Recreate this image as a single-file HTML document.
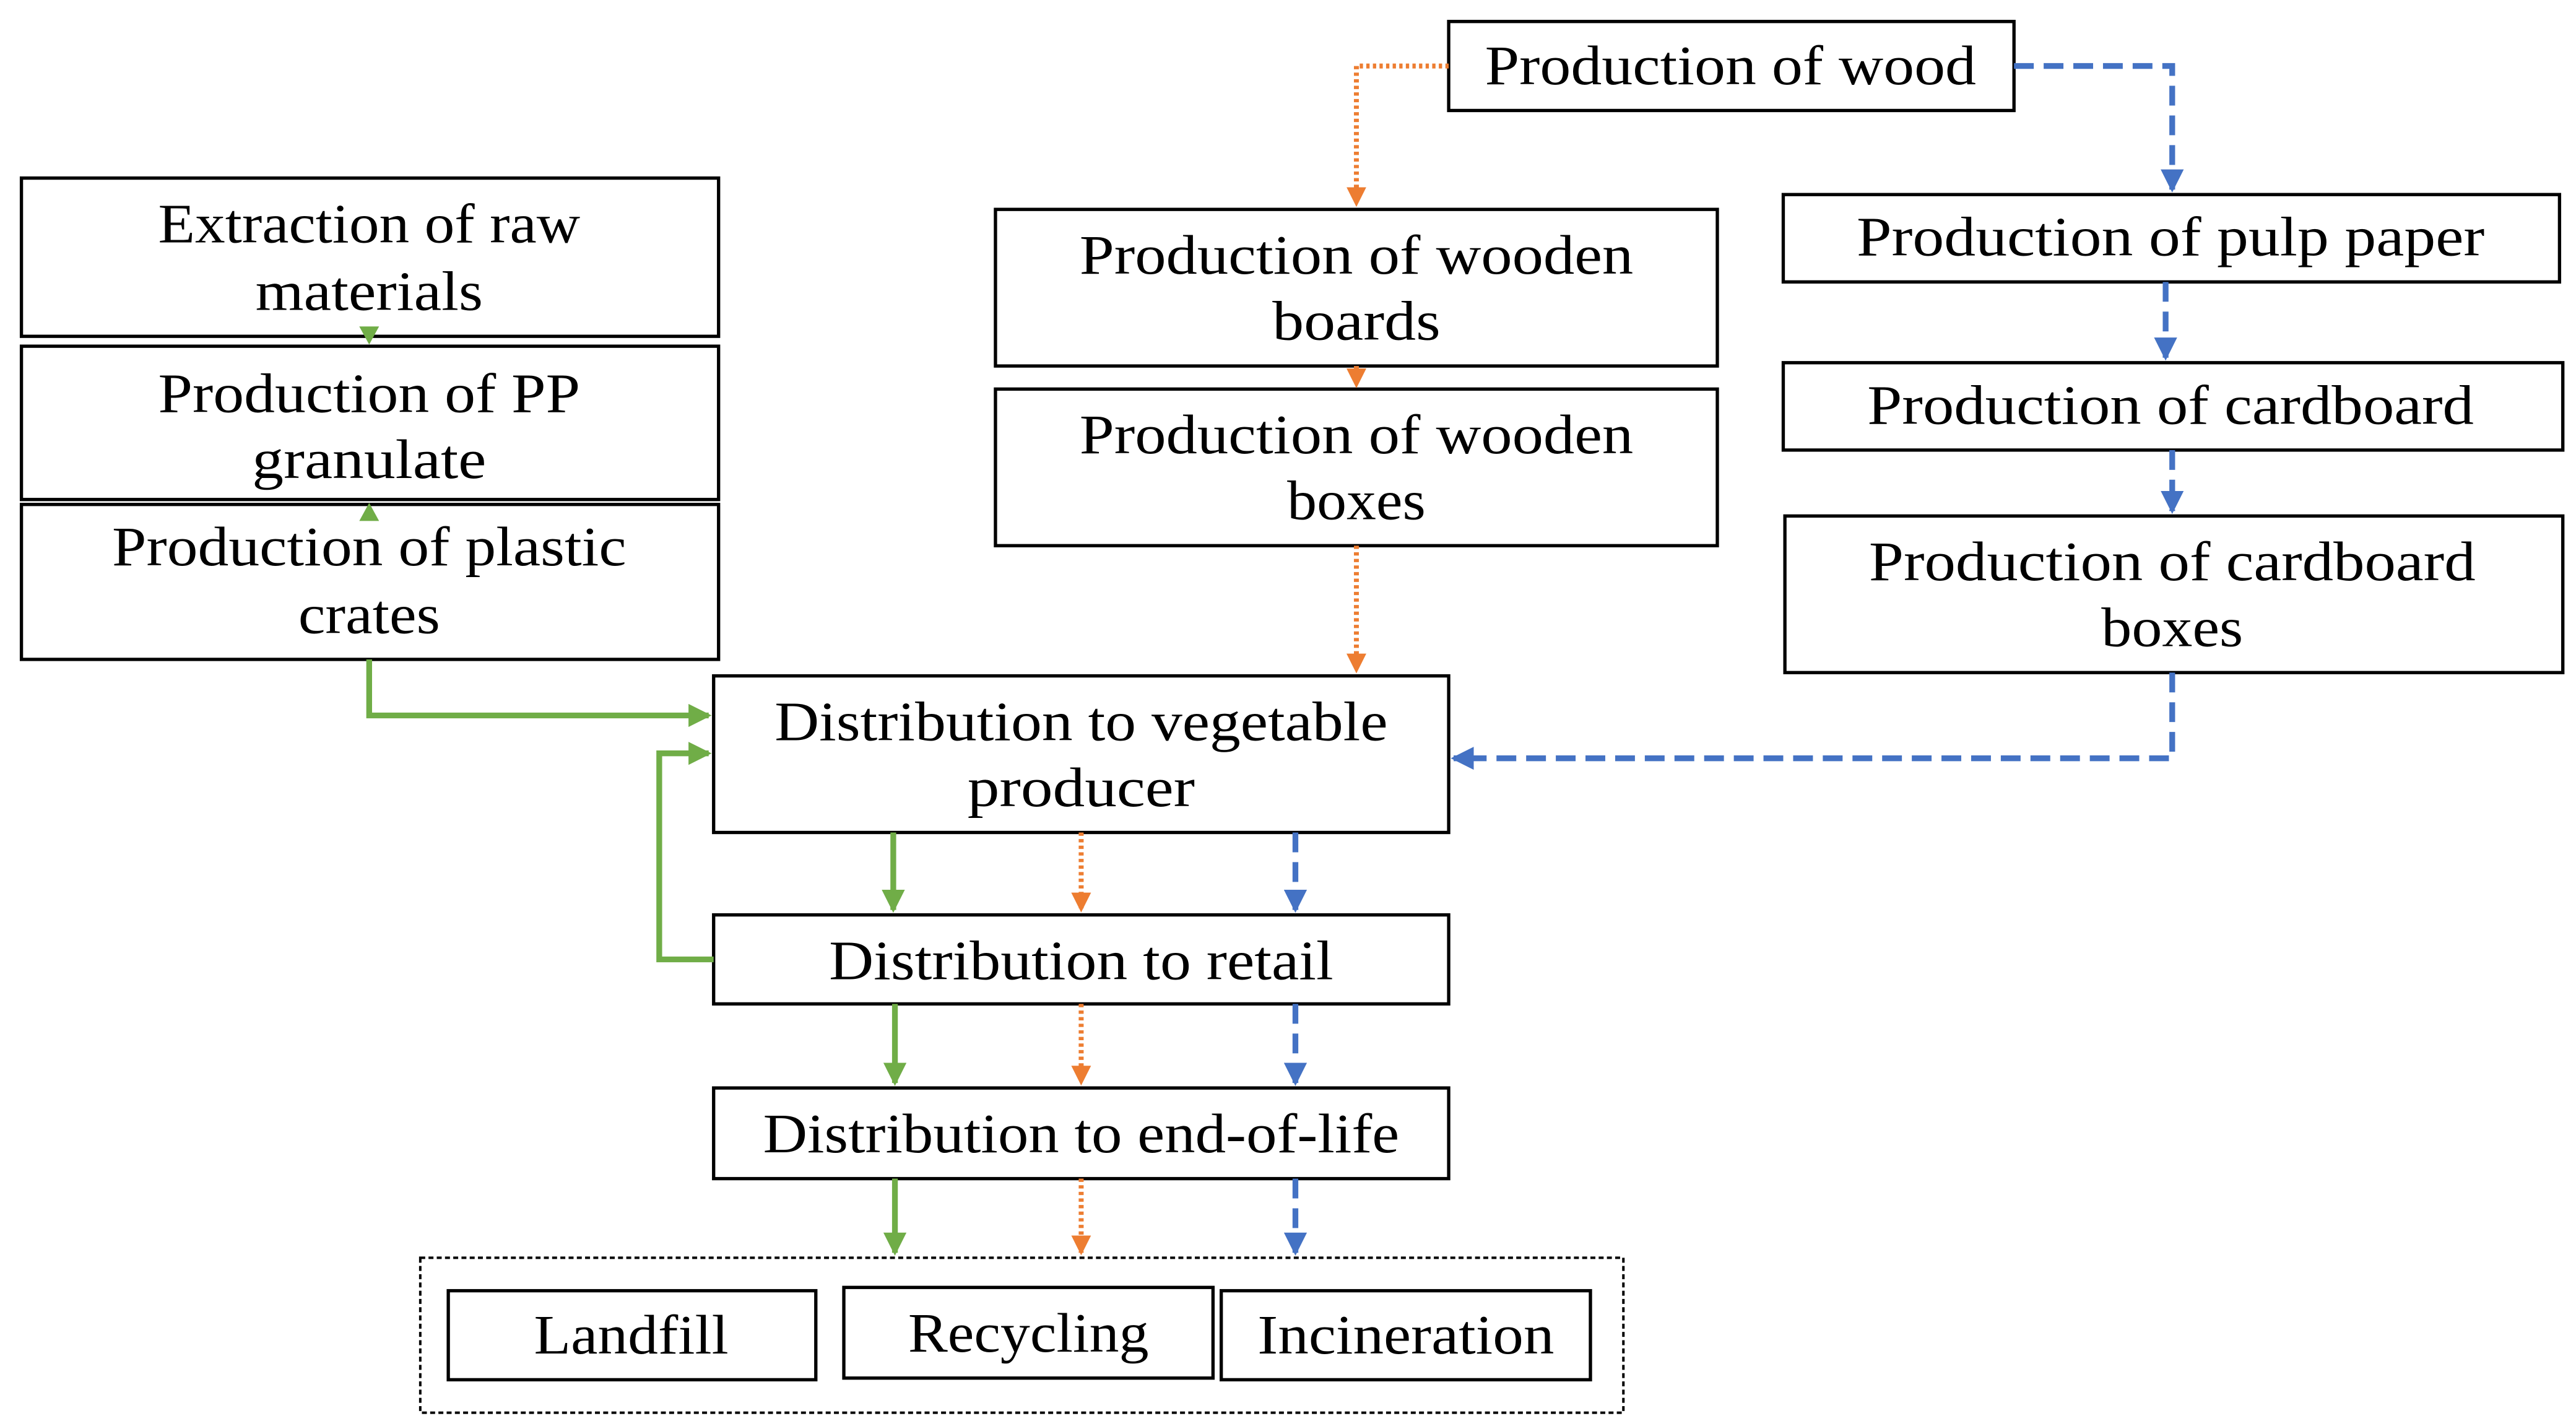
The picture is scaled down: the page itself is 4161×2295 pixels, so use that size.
<!DOCTYPE html>
<html><head><meta charset="utf-8"><style>
html,body{margin:0;padding:0;background:#fff;}
svg{display:block;}
text{font-family:"Liberation Serif",serif;font-size:34px;fill:#000;text-anchor:middle;}
</style></head><body>
<svg width="4161" height="2295" viewBox="0 0 1563 862" xmlns="http://www.w3.org/2000/svg">
<defs>
<marker id="ag" markerWidth="4" markerHeight="4" refX="3.5" refY="2" orient="auto" markerUnits="strokeWidth"><path d="M0,0 L4,2 L0,4 z" fill="#70AD47"/></marker>
<marker id="ao" markerWidth="4" markerHeight="4" refX="3.5" refY="2" orient="auto" markerUnits="strokeWidth"><path d="M0,0 L4,2 L0,4 z" fill="#ED7D31"/></marker>
<marker id="ab" markerWidth="4" markerHeight="4" refX="3.5" refY="2" orient="auto" markerUnits="strokeWidth"><path d="M0,0 L4,2 L0,4 z" fill="#4472C4"/></marker>
</defs>
<g fill="#fff" stroke="#000" stroke-width="2">
<rect x="879" y="13" width="343" height="54"/>
<rect x="13" y="108" width="423" height="96"/>
<rect x="13" y="210" width="423" height="93"/>
<rect x="13" y="306" width="423" height="94"/>
<rect x="604" y="127" width="438" height="95"/>
<rect x="604" y="236" width="438" height="95"/>
<rect x="1082" y="118" width="471" height="53"/>
<rect x="1082" y="220" width="473" height="53"/>
<rect x="1083" y="313" width="472" height="95"/>
<rect x="433" y="410" width="446" height="95"/>
<rect x="433" y="555" width="446" height="54"/>
<rect x="433" y="660" width="446" height="55"/>
<rect x="255" y="763" width="730" height="94" stroke-dasharray="3,2" stroke-width="1.5"/>
<rect x="272" y="783" width="223" height="54"/>
<rect x="512" y="781" width="224" height="55"/>
<rect x="741" y="783" width="224" height="54"/>
</g>
<g>
<text x="1050" y="51" textLength="298" lengthAdjust="spacingAndGlyphs">Production of wood</text>
<text x="224" y="147" textLength="256" lengthAdjust="spacingAndGlyphs">Extraction of raw</text>
<text x="224" y="188" textLength="138" lengthAdjust="spacingAndGlyphs">materials</text>
<text x="224" y="250" textLength="256" lengthAdjust="spacingAndGlyphs">Production of PP</text>
<text x="224" y="290" textLength="142" lengthAdjust="spacingAndGlyphs">granulate</text>
<text x="224" y="343" textLength="312" lengthAdjust="spacingAndGlyphs">Production of plastic</text>
<text x="224" y="384" textLength="86" lengthAdjust="spacingAndGlyphs">crates</text>
<text x="823" y="166" textLength="336" lengthAdjust="spacingAndGlyphs">Production of wooden</text>
<text x="823" y="206" textLength="102" lengthAdjust="spacingAndGlyphs">boards</text>
<text x="823" y="275" textLength="336" lengthAdjust="spacingAndGlyphs">Production of wooden</text>
<text x="823" y="315" textLength="84" lengthAdjust="spacingAndGlyphs">boxes</text>
<text x="1317" y="155" textLength="381" lengthAdjust="spacingAndGlyphs">Production of pulp paper</text>
<text x="1317" y="257" textLength="368" lengthAdjust="spacingAndGlyphs">Production of cardboard</text>
<text x="1318" y="352" textLength="368" lengthAdjust="spacingAndGlyphs">Production of cardboard</text>
<text x="1318" y="392" textLength="86" lengthAdjust="spacingAndGlyphs">boxes</text>
<text x="656" y="449" textLength="372" lengthAdjust="spacingAndGlyphs">Distribution to vegetable</text>
<text x="656" y="489" textLength="138" lengthAdjust="spacingAndGlyphs">producer</text>
<text x="656" y="594" textLength="306" lengthAdjust="spacingAndGlyphs">Distribution to retail</text>
<text x="656" y="699" textLength="386" lengthAdjust="spacingAndGlyphs">Distribution to end-of-life</text>
<text x="383" y="821" textLength="118" lengthAdjust="spacingAndGlyphs">Landfill</text>
<text x="624" y="820" textLength="146" lengthAdjust="spacingAndGlyphs">Recycling</text>
<text x="853" y="821" textLength="180" lengthAdjust="spacingAndGlyphs">Incineration</text>
</g>
<g fill="none" stroke="#ED7D31" stroke-width="3" stroke-dasharray="2,2">
<path d="M879,40 H823 V124" marker-end="url(#ao)"/>
<path d="M823,222 V234" marker-end="url(#ao)"/>
<path d="M823,331 V407" marker-end="url(#ao)"/>
<path d="M656,505 V552" marker-end="url(#ao)"/>
<path d="M656,609 V657" marker-end="url(#ao)"/>
<path d="M656,715 V760" marker-end="url(#ao)"/>
</g>
<g fill="none" stroke="#4472C4" stroke-width="3.5" stroke-dasharray="12,6">
<path d="M1222,40 H1318 V115" marker-end="url(#ab)"/>
<path d="M1314,171 V217" marker-end="url(#ab)"/>
<path d="M1318,273 V310" marker-end="url(#ab)"/>
<path d="M1318,408 V460 H882" marker-end="url(#ab)"/>
<path d="M786,505 V552" marker-end="url(#ab)"/>
<path d="M786,609 V657" marker-end="url(#ab)"/>
<path d="M786,715 V760" marker-end="url(#ab)"/>
</g>
<g fill="none" stroke="#70AD47" stroke-width="3.5">
<path d="M224,400 V434 H430" marker-end="url(#ag)"/>
<path d="M433,582 H400 V457 H430" marker-end="url(#ag)"/>
<path d="M542,505 V552" marker-end="url(#ag)"/>
<path d="M543,609 V657" marker-end="url(#ag)"/>
<path d="M543,715 V760" marker-end="url(#ag)"/>
</g>
<path d="M218,198 L230,198 L224,209 z" fill="#70AD47"/>
<path d="M218,316 L230,316 L224,305 z" fill="#70AD47"/>
</svg>
</body></html>
